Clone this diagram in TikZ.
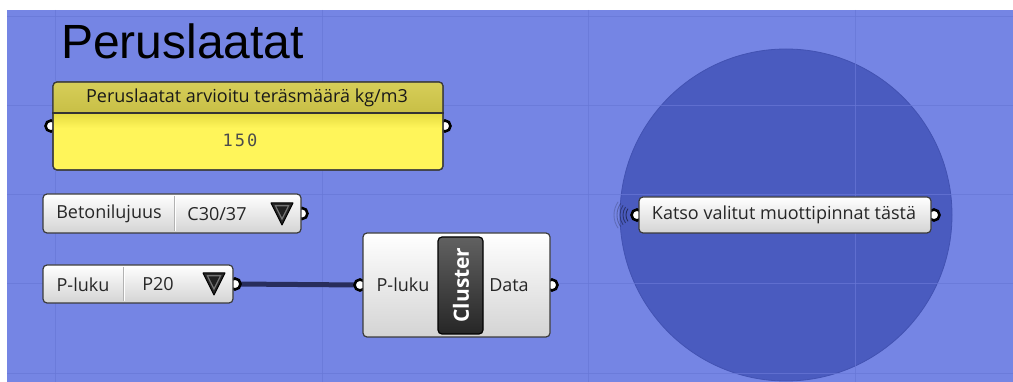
\documentclass[tikz,border=0pt]{standalone}
\usepackage{fontspec}
\setmainfont{Open Sans}
\newfontfamily\titlefont{Liberation Sans}
\newfontfamily\numfont{DejaVu Sans Mono}
\definecolor{bgblue}{RGB}{117,133,228}
\definecolor{gridc}{RGB}{104,119,214}
\definecolor{circc}{RGB}{74,91,191}
\definecolor{circe}{RGB}{66,82,178}
\definecolor{hdrtop}{RGB}{214,206,88}
\definecolor{hdrbot}{RGB}{200,191,70}
\definecolor{yel}{RGB}{255,245,90}
\definecolor{yeldark}{RGB}{228,218,64}
\definecolor{wirec}{RGB}{40,45,92}
\definecolor{edge}{RGB}{60,60,60}
\pgfdeclarelayer{back}
\pgfdeclarelayer{wires}
\pgfsetlayers{back,wires,main}
\tikzset{
  comp/.style={draw=edge, line width=1.2pt, rounded corners=4pt, top color=white, bottom color=black!17, inner sep=0pt},
  grip/.style={circle, draw=black, line width=2.6pt, fill=white, minimum size=11pt, inner sep=0pt},
  lbl/.style={font=\fontsize{18}{21}\selectfont, text=black!85, inner sep=0pt},
  sep/.style={draw=black!30, line width=1pt},
  tri/.style={draw=black, fill=black!85, line width=1pt, line join=round},
  wire/.style={draw=wirec, line width=5pt},
  gridline/.style={draw=gridc, line width=1pt},
  arcw/.style={draw=black, line width=0.9pt},
}
\begin{document}
\begin{tikzpicture}[x=1pt,y=-1pt]
\useasboundingbox (0,0) rectangle (1013,382);
\begin{pgfonlayer}{back}
  \fill[white] (0,0) rectangle (1013,382);
  \fill[bgblue] (7,10) rectangle (1013,382);
  \fill[circc] (786,215) circle (166);
  \draw[circe, line width=0.8pt] (786,215) circle (166);
  \foreach \gx in {55,322,588,855} \draw[gridline, opacity=0.7] (\gx,10) -- (\gx,382);
  \foreach \gy in {17,106,195,284,373} \draw[gridline, opacity=0.7] (7,\gy) -- (1013,\gy);
\end{pgfonlayer}

% title
\node[anchor=base west, font=\titlefont\fontsize{48}{52}\selectfont, inner sep=0pt] (title) at (61,59) {Peruslaatat};

% yellow panel
\node[grip] (pin) at (51,126) {};
\node[grip] (pout) at (445,126) {};
\node[draw=edge, line width=1.2pt, rounded corners=4pt, fill=yel, minimum width=390pt, minimum height=88pt, inner sep=0pt] (panel) at (248,126) {};
\shade[top color=yeldark, bottom color=yel] (54,113) rectangle (442,128);
\shade[top color=hdrtop, bottom color=hdrbot] (53.6,113) [rounded corners=3.5pt] -- (53.6,82.6) -- (442.4,82.6) [sharp corners] -- (442.4,113) -- cycle;
\draw[edge, line width=1.2pt, rounded corners=4pt] (53,82) rectangle (443,170);
\draw[black!80, line width=1.3pt] (panel.west |- 0,113) -- (panel.east |- 0,113);
\node[lbl, text=black!90] (hdrtxt) at (247,98) {Peruslaatat arvioitu teräsmäärä kg/m3};
\node[font=\numfont\fontsize{17}{20}\selectfont, text=black!70, inner sep=0pt] (val) at (240,140) {1\kern2pt5\kern2pt0};

% Betonilujuus value list
\node[grip] (bout) at (302,213.5) {};
\node[comp, minimum width=258pt, minimum height=39pt] (beton) at (172,213.5) {};
\draw[sep] (174,196) -- (174,231);
\draw[white, line width=0.8pt] (175.2,196) -- (175.2,231);
\node[lbl] (btxt) at (109,214) {Betonilujuus};
\node[lbl] (bval) at (217,214) {C30/37};
\draw[tri] (271,203) -- (293,203) -- (282,225) -- cycle;
\fill[black!55] (274.5,205.2) -- (289.5,205.2) -- (282,220.5) -- cycle;
\fill[black!88] (276.6,206.5) -- (287.4,206.5) -- (282,217.5) -- cycle;

% P-luku value list
\node[grip] (pluout) at (235,284) {};
\node[comp, minimum width=190pt, minimum height=38pt] (pluku) at (138,284) {};
\draw[sep] (123,267) -- (123,301);
\draw[white, line width=0.8pt] (124.2,267) -- (124.2,301);
\node[lbl] (ptxt) at (83,284.5) {P-luku};
\node[lbl] (pval) at (158,284.5) {P20};
\draw[tri] (203,273) -- (225,273) -- (214,295) -- cycle;
\fill[black!55] (206.5,275.2) -- (221.5,275.2) -- (214,290.5) -- cycle;
\fill[black!88] (208.6,276.5) -- (219.4,276.5) -- (214,287.5) -- cycle;

% Cluster component
\node[grip] (cin) at (360,285) {};
\node[grip] (cout) at (552,285) {};
\node[comp, minimum width=187pt, minimum height=104pt] (cluster) at (456.5,285) {};
\node[draw=black, line width=1.2pt, rounded corners=4pt, top color=black!62, bottom color=black!85, minimum width=45pt, minimum height=97pt, inner sep=0pt] (cbar) at (460.5,285.5) {};
\node[rotate=90, text=white, font=\bfseries\fontsize{21}{24}\selectfont, inner sep=0pt] (ctxt) at (461,285) {Cluster};
\node[lbl] (cintxt) at (403,285) {P-luku};
\node[lbl] (couttxt) at (509,285) {Data};

% Katso (receiver)
\node[grip] (kin) at (637,215) {};
\node[grip] (kout) at (934,215) {};
\node[comp, minimum width=292pt, minimum height=36pt] (katso) at (785,215) {};
\node[lbl] (ktxt) at (784,214.5) {Katso valitut muottipinnat tästä};
\foreach \r/\o in {11/0.5,14/0.42,17/0.34,20/0.26,23/0.18}
  \draw[arcw, opacity=\o] ([shift={(145:\r)}]kin.center) arc[start angle=145, end angle=215, radius=\r];

% wire
\begin{pgfonlayer}{wires}
  \draw[wire] (pluout.center) -- (cin.center);
\end{pgfonlayer}
\end{tikzpicture}
\end{document}
